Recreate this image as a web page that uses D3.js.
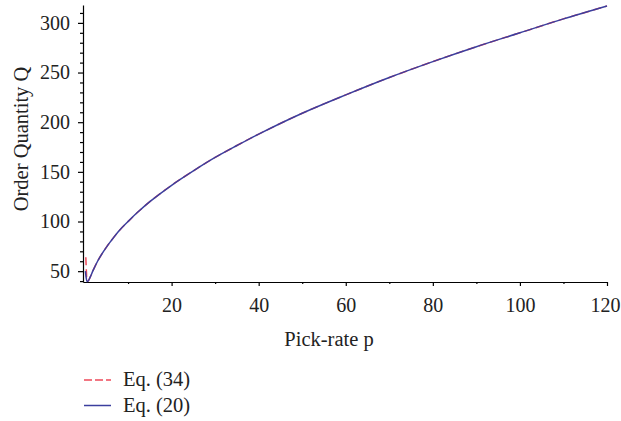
<!DOCTYPE html>
<html>
<head>
<meta charset="utf-8">
<style>
  body { margin: 0; background: #fff; }
  svg { font-family: "Liberation Serif", "DejaVu Serif", serif; }
  .axis path, .axis line { stroke: #000; stroke-width: 1.2; }
  .axis text { font-size: 20px; fill: #222; }
  .lbl { font-size: 20.5px; fill: #222; }
</style>
</head>
<body>
<svg width="621" height="421"></svg>
<script src="https://d3js.org/d3.v7.min.js"></script>
<script>

// pick-rate p (x) and order quantity Q (y)
var pickRate = [0.2, 0.4, 0.6, 0.9, 1.3, 2, 3, 4, 5, 6, 8, 10, 12, 15, 20, 25, 30, 35, 40, 50, 60, 70, 80, 90, 100, 110, 120];
var qEq20    = [50, 43, 39.5, 40.5, 44, 51, 60, 67.5, 74, 80, 91, 100, 108.5, 120, 136.5, 151, 164.5, 176.5, 188, 209, 227.5, 245, 261, 276, 290, 304, 317];
// Eq. (34) shoots up near p -> 0, otherwise sits on Eq. (20)
var pickRate34 = [0.3, 0.45, 0.6, 0.9, 1.3, 2, 3, 4, 5, 6, 8, 10, 12, 15, 20, 25, 30, 35, 40, 50, 60, 70, 80, 90, 100, 110, 120];
var qEq34      = [64, 48, 40, 40.5, 44, 51, 60, 67.5, 74, 80, 91, 100, 108.5, 120, 136.5, 151, 164.5, 176.5, 188, 209, 227.5, 245, 261, 276, 290, 304, 317];

var xMajor = [20, 40, 60, 80, 100, 120];
var xMinor = [10, 30, 50, 70, 90, 110];
var yMajor = [50, 100, 150, 200, 250, 300];

var seriesNames = ["Eq. (34)", "Eq. (20)"];
var seriesColors = ["#ee4a5a", "#3b3f9e"];

var svg = d3.select("svg");

var x = d3.scaleLinear().domain([-0.35, 120]).range([83, 607]);
var y = d3.scaleLinear().domain([39.1, 318]).range([282, 5]);

var yMinor = d3.range(40, 318, 10).filter(function(v) { return v % 50 != 0; });

// minor ticks
svg.append("g")
    .attr("class", "axis")
    .attr("transform", "translate(0,282)")
    .call(d3.axisBottom(x).tickValues(xMinor).tickSize(2).tickFormat(""))
    .select(".domain").remove();
svg.append("g")
    .attr("class", "axis")
    .attr("transform", "translate(83,0)")
    .call(d3.axisLeft(y).tickValues(yMinor).tickSize(3).tickFormat(""))
    .select(".domain").remove();

// major axes
var xAxis = svg.append("g")
    .attr("class", "axis")
    .attr("transform", "translate(0,282)")
    .call(d3.axisBottom(x).tickValues(xMajor).tickSize(4).tickSizeOuter(0).tickPadding(12));
svg.append("g")
    .attr("class", "axis")
    .attr("transform", "translate(83,0)")
    .call(d3.axisLeft(y).tickValues(yMajor).tickSize(5).tickSizeOuter(0).tickPadding(8));

svg.selectAll("g.axis").attr("font-family", null).attr("font-size", null);
// keep "120" inside the frame
xAxis.selectAll(".tick text").filter(function(d) { return d == 120; }).attr("dx", "-2");

var line = d3.line()
    .x(function(d) { return x(d[0]); })
    .y(function(d) { return y(d[1]); })
    .curve(d3.curveCatmullRom);

svg.append("path")
    .datum(d3.zip(pickRate34, qEq34))
    .attr("fill", "none")
    .attr("stroke", seriesColors[0])
    .attr("stroke-width", 1.5)
    .attr("stroke-dasharray", "8,4")
    .attr("d", line);

svg.append("path")
    .datum(d3.zip(pickRate, qEq20))
    .attr("fill", "none")
    .attr("stroke", seriesColors[1])
    .attr("stroke-width", 1.5)
    .attr("d", line);

// axis titles
svg.append("text")
    .attr("class", "lbl")
    .attr("x", 329)
    .attr("y", 346)
    .attr("text-anchor", "middle")
    .text("Pick-rate p");

svg.append("text")
    .attr("class", "lbl")
    .attr("transform", "translate(28,139) rotate(-90)")
    .attr("text-anchor", "middle")
    .text("Order Quantity Q");

// legend
var legend = svg.append("g").selectAll("g")
    .data(seriesNames)
    .enter().append("g")
    .attr("transform", function(d, i) { return "translate(0," + (380 + i * 25.5) + ")"; });

legend.append("line")
    .attr("x1", 84).attr("x2", 111)
    .attr("stroke", function(d, i) { return seriesColors[i]; })
    .attr("stroke-width", 1.5)
    .attr("stroke-dasharray", function(d, i) { return i == 0 ? "8,3" : null; });

legend.append("text")
    .attr("class", "lbl")
    .attr("x", 123)
    .attr("y", 6)
    .text(function(d) { return d; });

</script>
</body>
</html>
